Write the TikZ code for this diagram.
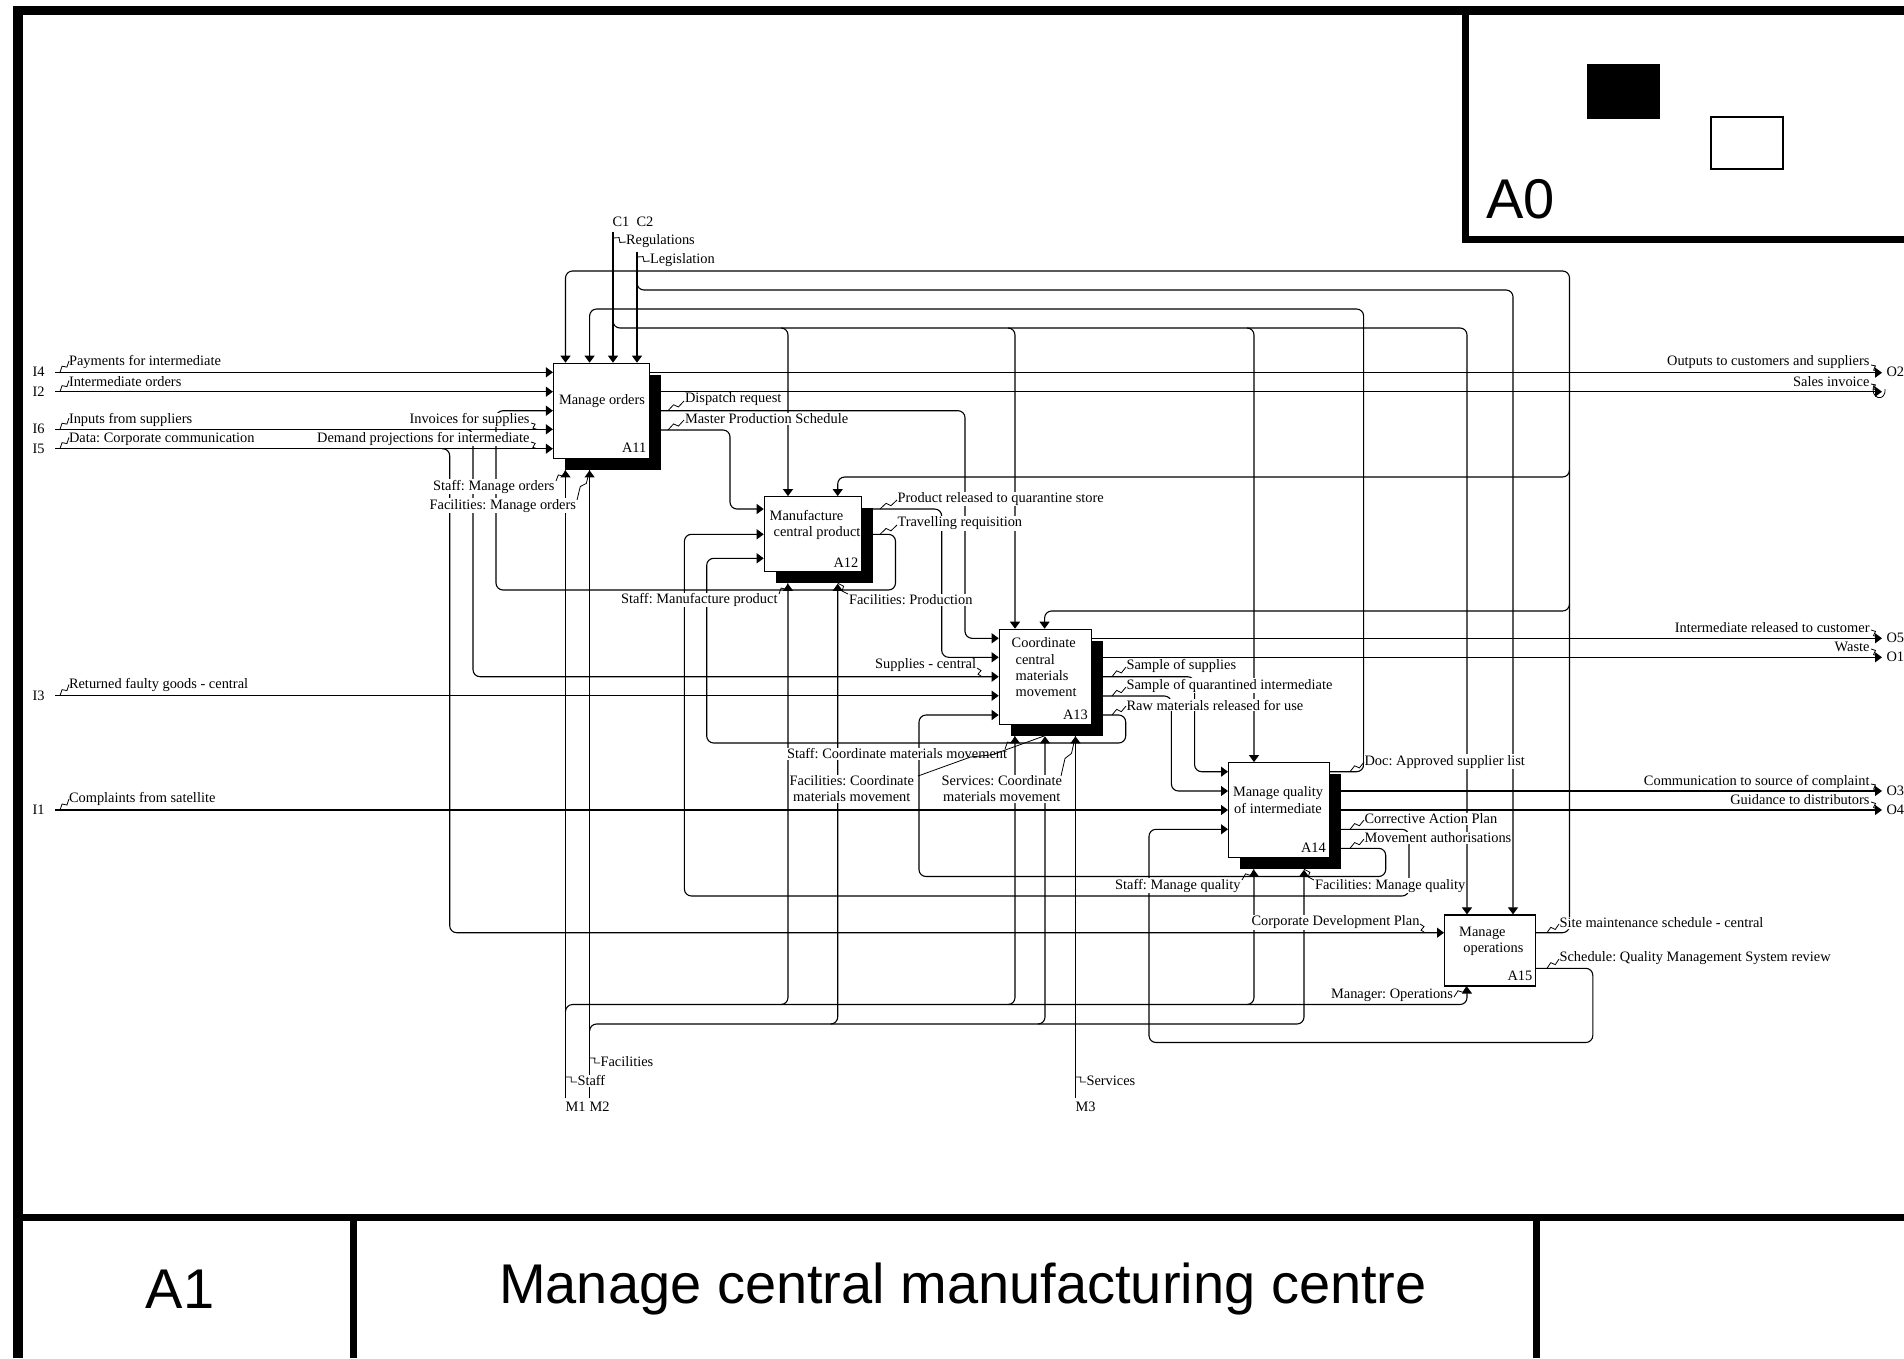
\documentclass[tikz,border=0pt]{standalone}
\usepackage{fontspec}
\setmainfont{Liberation Serif}
\newfontfamily\titlesans{Liberation Sans}
\usetikzlibrary{arrows.meta,calc,shadows}
\frenchspacing

% small zig-zag tying a label to its arrow
\newcommand\zz[2]{\draw[zzline] (#1) -- ($(#1)!0.42!(#2)!2.2pt!90:(#2)$) -- ($(#1)!0.58!(#2)!2.2pt!-90:(#2)$) -- (#2);}

\begin{document}
\begin{tikzpicture}[x=1pt,y=-1pt,
  conn/.style={line width=1.1pt, rounded corners=7pt},
  arr/.style={conn, -{Triangle[length=7pt,width=10pt]}},
  zzline/.style={line width=0.8pt},
  box/.style={draw, line width=1.2pt, fill=white, inner sep=0pt,
    general shadow={fill=black, shadow xshift=11.5pt, shadow yshift=-11.5pt}},
  leafbox/.style={draw, line width=1.2pt, fill=white, inner sep=0pt},
  lbl/.style={font=\fontsize{14.4}{16.5}\selectfont, fill=white, inner sep=0.8pt},
  boxname/.style={font=\fontsize{14.4}{16.2}\selectfont, inner sep=0pt},
  frame/.style={fill=black},
  bigtext/.style={font=\titlesans\fontsize{56}{60}\selectfont, inner sep=0pt}
]
\useasboundingbox (0,0) rectangle (1904,1358);
\fill[white] (0,0) rectangle (1904,1358);

% ---------- drawing frame ----------
\fill[frame] (13,6) rectangle (1904,15);
\fill[frame] (13,6) rectangle (23,1358);
\fill[frame] (1462,6) rectangle (1469,243);
\fill[frame] (1462,236) rectangle (1904,243);
\fill[frame] (1587,64) rectangle (1660,119);
\draw[line width=1.5pt] (1711,117) rectangle (1783,169);
\fill[frame] (13,1214) rectangle (1904,1221);
\fill[frame] (350,1214) rectangle (357,1358);
\fill[frame] (1533,1214) rectangle (1540,1358);
\node[bigtext] (nodeA0) at (1520.5,199) {A0};
\node[bigtext] (nodeA1) at (180,1289) {A1};
\node[bigtext] (title) at (963,1289) {Manage central manufacturing centre};

% ---------- activity boxes ----------
\node[box, minimum width=95.8pt, minimum height=95pt] (A11) at (601.4,410.8) {};
\node[box, minimum width=97.4pt, minimum height=75pt] (A12) at (813,534.2) {};
\node[box, minimum width=92.5pt, minimum height=95pt] (A13) at (1045.55,676.8) {};
\node[box, minimum width=100.7pt, minimum height=95pt] (A14) at (1278.95,810.2) {};
\node[leafbox, minimum width=91pt, minimum height=71pt] (A15) at (1490.1,950.5) {};

% ---------- boundary arrow ends ----------
\coordinate (I4) at (55,372.3);
\coordinate (I2) at (55,391.7);
\coordinate (I6) at (55,429.3);
\coordinate (I5) at (55,448.7);
\coordinate (I3) at (55,695.7);
\coordinate (I1) at (55,810);
\coordinate (O2) at (1882,372.7);
\coordinate (SI) at (1882,391.7);
\coordinate (O5) at (1882,638.3);
\coordinate (O1) at (1882,657.3);
\coordinate (O3) at (1882,791);
\coordinate (O4) at (1882,810);
\coordinate (C1) at (613,232);
\coordinate (C2) at (637,251.7);
\coordinate (M1) at (565.5,1098);
\coordinate (M2) at (589.6,1098);
\coordinate (M3) at (1075.5,1098);

% ---------- inputs ----------
\draw[arr] (I4) -- (A11.west |- I4);
\draw[arr] (I2) -- (A11.west |- I2);
\draw[arr] (I6) -- (A11.west |- I6);
\draw[arr] (466,429.3) -- (473,429.3) -- (473,676.7) -- (A13.west |- 0,676.7);
\draw[arr] (I5) -- (A11.west |- I5);
\draw[arr] (442,448.7) -- (449.7,448.7) -- (449.7,932.7) -- (A15.west |- 0,932.7);
\draw[arr] (I3) -- (A13.west |- I3);
\draw[arr] (I1) -- (A14.west |- I1);

% ---------- outputs of A11 ----------
\draw[arr] (A11.east |- O2) -- (O2);
\draw[arr] (A11.east |- SI) -- (SI);
\draw[arr] (A11.east |- 0,410.7) -- (965,410.7) -- (965,638.3) -- (A13.west |- 0,638.3);
\draw[arr] (A11.east |- 0,430) -- (730,430) -- (730,509) -- (A12.west |- 0,509);

% ---------- outputs of A12 ----------
\draw[arr] (A12.east |- 0,509) -- (941.7,509) -- (941.7,657.3) -- (A13.west |- 0,657.3);
\draw[arr] (A12.east |- 0,534.3) -- (895.5,534.3) -- (895.5,590) -- (496,590) -- (496,410.7) -- (A11.west |- 0,410.7);

% ---------- outputs of A13 ----------
\draw[arr] (A13.east |- O5) -- (O5);
\draw[arr] (A13.east |- O1) -- (O1);
\draw[arr] (A13.east |- 0,676.7) -- (1194.6,676.7) -- (1194.6,771.7) -- (A14.west |- 0,771.7);
\draw[arr] (A13.east |- 0,696) -- (1171.4,696) -- (1171.4,791) -- (A14.west |- 0,791);
\draw[arr] (A13.east |- 0,715) -- (1125.7,715) -- (1125.7,743) -- (706.7,743) -- (706.7,558.3) -- (A12.west |- 0,558.3);

% ---------- outputs of A14 ----------
\draw[arr] (A14.east |- 0,771.7) -- (1363.6,771.7) -- (1363.6,309) -- (589.6,309) -- (A11.north -| 589.6,0);
\draw[arr] (A14.east |- O3) -- (O3);
\draw[arr] (A14.east |- O4) -- (O4);
\draw[arr] (A14.east |- 0,829.3) -- (1409,829.3) -- (1409,896) -- (684.4,896) -- (684.4,534.3) -- (A12.west |- 0,534.3);
\draw[arr] (A14.east |- 0,848.3) -- (1385.7,848.3) -- (1385.7,876.5) -- (919,876.5) -- (919,715) -- (A13.west |- 0,715);

% ---------- outputs of A15 ----------
\draw[arr] (A15.east |- 0,932.7) -- (1569.5,932.7) -- (1569.5,271) -- (565.5,271) -- (A11.north -| 565.5,0);
\draw[arr] (1569.5,470) -- (1569.5,477) -- (837.7,477) -- (A12.north -| 837.7,0);
\draw[arr] (1569.5,604) -- (1569.5,611) -- (1044.6,611) -- (A13.north -| 1044.6,0);
\draw[arr] (A15.east |- 0,968.3) -- (1592.8,968.3) -- (1592.8,1042.5) -- (1149,1042.5) -- (1149,829.3) -- (A14.west |- 0,829.3);

% ---------- controls ----------
\draw[arr] (C1) -- (A11.north -| C1);
\draw[arr] (613,321) -- (613,328) -- (1467,328) -- (A15.north -| 1467,0);
\draw[arr] (781,328) -- (788,328) -- (A12.north -| 788,0);
\draw[arr] (1008,328) -- (1015,328) -- (A13.north -| 1015,0);
\draw[arr] (1247,328) -- (1254,328) -- (A14.north -| 1254,0);
\draw[arr] (C2) -- (A11.north -| C2);
\draw[arr] (637,283) -- (637,290) -- (1513,290) -- (A15.north -| 1513,0);

% ---------- mechanisms ----------
\draw[arr] (M1) -- ($(A11.south -| M1)+(0,11.5)$);
\draw[arr] (565.5,1011.5) -- (565.5,1004.5) -- (1467,1004.5) -- (A15.south -| 1467,0);
\draw[arr] (781,1004.5) -- (788,1004.5) -- ($(A12.south -| 788,0)+(0,11.5)$);
\draw[arr] (1008,1004.5) -- (1015,1004.5) -- ($(A13.south -| 1015,0)+(0,11.5)$);
\draw[arr] (1247,1004.5) -- (1254,1004.5) -- ($(A14.south -| 1254,0)+(0,11.5)$);
\draw[arr] (M2) -- ($(A11.south -| M2)+(0,11.5)$);
\draw[arr] (589.6,1031) -- (589.6,1024) -- (1304,1024) -- ($(A14.south -| 1304,0)+(0,11.5)$);
\draw[arr] (830.7,1024) -- (837.7,1024) -- ($(A12.south -| 837.7,0)+(0,11.5)$);
\draw[arr] (1038,1024) -- (1045,1024) -- ($(A13.south -| 1045,0)+(0,11.5)$);
\draw[line width=1.5pt, -{Triangle[length=7pt,width=10pt]}] (M3) -- ($(A13.south -| M3)+(0,11.5)$);

% ---------- box names ----------
\node[boxname] (n11) at (602,401) {Manage orders};
\node[boxname, anchor=east] (k11) at (646.5,448) {A11};
\node[boxname, align=left, anchor=west] (n12) at (769.5,525) {Manufacture\\\hspace*{4pt}central product};
\node[boxname, anchor=east] (k12) at (858.5,562.3) {A12};
\node[boxname, align=left, anchor=west] (n13) at (1011.5,667.3) {Coordinate\\\hspace*{4pt}central\\\hspace*{4pt}materials\\\hspace*{4pt}movement};
\node[boxname, anchor=east] (k13) at (1088,714.3) {A13};
\node[boxname, align=center] (n14) at (1278,800) {Manage quality\\of intermediate};
\node[boxname, anchor=east] (k14) at (1326,847.3) {A14};
\node[boxname, align=left, anchor=west] (n15) at (1459,941.3) {Manage\\\hspace*{4.2pt}operations};
\node[boxname, anchor=east] (k15) at (1532.5,975.7) {A15};

% ---------- arrow labels ----------
\begin{scope}[every node/.style={lbl}]
% boundary codes
\node[anchor=west] (tI4) at (31.5,372) {I4};
\node[anchor=west] (tI2) at (31.5,391.7) {I2};
\node[anchor=west] (tI6) at (31.5,429) {I6};
\node[anchor=west] (tI5) at (31.5,448.5) {I5};
\node[anchor=west] (tI3) at (31.5,695.5) {I3};
\node[anchor=west] (tI1) at (31.5,810) {I1};
\node[anchor=west] (tO2) at (1885.5,372) {O2};
\node[anchor=west] (tO5) at (1885.5,638) {O5};
\node[anchor=west] (tO1) at (1885.5,657) {O1};
\node[anchor=west] (tO3) at (1885.5,791) {O3};
\node[anchor=west] (tO4) at (1885.5,810) {O4};
\node[anchor=west, fill=none] (tC1) at (611.5,222) {C1};
\node[anchor=west, fill=none] (tC2) at (635.5,222) {C2};
\node[anchor=west, fill=none] (tM1) at (564.5,1106.7) {M1};
\node[anchor=west, fill=none] (tM2) at (588.5,1106.7) {M2};
\node[anchor=west, fill=none] (tM3) at (1074.5,1106.7) {M3};
% inputs
\node[anchor=west] (l1) at (68,362.3) {Payments for intermediate};
\node[anchor=west] (l2) at (68,381.7) {Intermediate orders};
\node[anchor=west] (l3) at (68,420) {Inputs from suppliers};
\node[anchor=west] (l4) at (68,439) {Data: Corporate communication};
\node[anchor=west] (l5) at (68,685) {Returned faulty goods - central};
\node[anchor=west] (l6) at (68,799.3) {Complaints from satellite};
\node[anchor=east] (l7) at (530.5,420) {Invoices for supplies};
\node[anchor=east] (l8) at (530.5,439) {Demand projections for intermediate};
% A11
\node[anchor=east] (l9) at (555.5,486.7) {Staff: Manage orders};
\node[anchor=east] (l10) at (577,505.7) {Facilities: Manage orders};
\node[anchor=west] (l11) at (684,399.3) {Dispatch request};
\node[anchor=west] (l12) at (684,419) {Master Production Schedule};
% A12
\node[anchor=west] (l13) at (896.5,499) {Product released to quarantine store};
\node[anchor=west] (l14) at (896.5,523.3) {Travelling requisition};
\node[anchor=east] (l15) at (778.5,600) {Staff: Manufacture product};
\node[anchor=west] (l16) at (848,600) {Facilities: Production};
% A13
\node[anchor=east] (l17) at (977,665) {Supplies - central};
\node[anchor=west] (l18) at (1125.5,665.7) {Sample of supplies};
\node[anchor=west] (l19) at (1125.5,685.7) {Sample of quarantined intermediate};
\node[anchor=west] (l20) at (1125.5,705) {Raw materials released for use};
\node[anchor=west] (l21) at (786,753.7) {Staff: Coordinate materials movement};
\node[align=center] (l22) at (851.8,788.7) {Facilities: Coordinate\\materials movement};
\node[align=center] (l23) at (1001.8,788.7) {Services: Coordinate\\materials movement};
% A14
\node[anchor=west] (l24) at (1363.5,761.7) {Doc: Approved supplier list};
\node[anchor=west] (l25) at (1363.5,819) {Corrective Action Plan};
\node[anchor=west] (l26) at (1363.5,837.7) {Movement authorisations};
\node[anchor=east] (l27) at (1241.5,885.7) {Staff: Manage quality};
\node[anchor=west] (l28) at (1314,885.7) {Facilities: Manage quality};
% A15
\node[anchor=west] (l29) at (1250.5,922.3) {Corporate Development Plan};
\node[anchor=east] (l30) at (1454,995) {Manager: Operations};
\node[anchor=west] (l31) at (1558.5,922.7) {Site maintenance schedule - central};
\node[anchor=west] (l32) at (1558.5,957.7) {Schedule: Quality Management System review};
% right-hand outputs
\node[anchor=east] (l33) at (1870.5,362.3) {Outputs to customers and suppliers};
\node[anchor=east] (l34) at (1870.5,381.7) {Sales invoice};
\node[anchor=east] (l35) at (1870.5,627.7) {Intermediate released to customer};
\node[anchor=east] (l36) at (1870.5,646.7) {Waste};
\node[anchor=east] (l37) at (1870.5,781.7) {Communication to source of complaint};
\node[anchor=east] (l38) at (1870.5,800) {Guidance to distributors};
% controls and mechanisms
\node[anchor=west] (l39) at (625,240.7) {Regulations};
\node[anchor=west] (l40) at (649,260) {Legislation};
\node[anchor=west] (l41) at (599.5,1061.7) {Facilities};
\node[anchor=west] (l42) at (576.5,1080.7) {Staff};
\node[anchor=west] (l43) at (1085.5,1080.7) {Services};
\end{scope}

% ---------- label ties ----------
\zz{60,372.3}{69,361}
\zz{60,391.7}{69,380.5}
\zz{60,429.3}{69,418}
\zz{60,448.7}{69,437.5}
\zz{60,695.7}{69,684.5}
\zz{60,810}{69,799}
\zz{531,423}{537,429.3}
\zz{531,442}{537,448.7}
\zz{556,481}{565.5,470}
\zz{577,500}{589.6,470}
\zz{668,410.7}{684,401}
\zz{668,430}{684,420}
\zz{880,509}{897,500}
\zz{880,534.3}{897,525}
\zz{779,594}{788,583.2}
\zz{848,594}{837.7,583.2}
\zz{977,668}{982,676.7}
\zz{1112,676.7}{1126,667}
\zz{1112,696}{1126,687}
\zz{1112,715}{1126,706}
\zz{1005,749}{1015,735.8}
\zz{918,776}{1044.6,735.8}
\zz{1061,776}{1075.5,735.8}
\zz{1350,771.7}{1364,762}
\zz{1350,829.3}{1364,820}
\zz{1350,848.3}{1364,839}
\zz{1242,880}{1254,869.2}
\zz{1314,880}{1304,869.2}
\zz{1420,924}{1425,932.7}
\zz{1454,997}{1467,986}
\zz{1547,932.7}{1559,924}
\zz{1547,968.3}{1559,959}
\zz{613,238}{626,242}
\zz{637,257}{650,261}
\zz{589.6,1058}{600,1063}
\zz{565.5,1077}{577,1082}
\zz{1075.5,1077}{1086,1082}
\zz{1871,365}{1878,371}
\zz{1871,384}{1878,390}
\zz{1871,630}{1878,637}
\zz{1871,649}{1878,656}
\zz{1871,784}{1878,790}
\zz{1871,802}{1878,809}
% tunnel mark round the sales invoice arrow tip
\draw[zzline] (1874,385) .. controls (1869,399) and (1886,403) .. (1885,389);
\end{tikzpicture}
\end{document}
